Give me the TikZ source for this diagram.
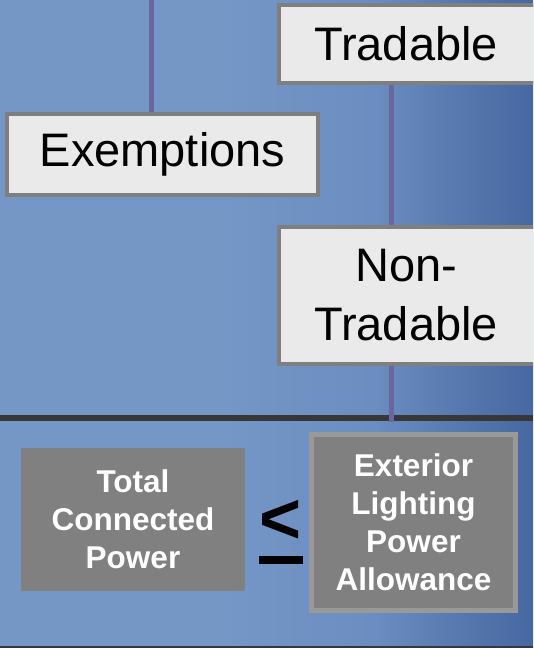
\documentclass[tikz,border=0pt]{standalone}
\usepackage{fontspec}
\setmainfont{Liberation Sans}
\usetikzlibrary{calc}
\definecolor{bgL}{HTML}{7597C6}
\definecolor{bgM}{HTML}{6B8DC0}
\definecolor{bgR}{HTML}{4667A0}
\definecolor{darkline}{HTML}{373737}
\definecolor{conn}{HTML}{6A679F}
\definecolor{boxfill}{HTML}{EAEAEA}
\definecolor{boxedge}{HTML}{7F7F7F}
\definecolor{greyfill}{HTML}{808080}
\definecolor{greyedge}{HTML}{999999}
\pgfdeclarehorizontalshading{bgshade}{100bp}{color(0bp)=(bgL); color(46bp)=(bgL); color(60bp)=(bgM); color(75bp)=(bgR); color(100bp)=(bgR)}
\pgfdeclarelayer{back}
\pgfdeclarelayer{mid}
\pgfsetlayers{back,mid,main}
\tikzset{
  lightbox/.style={draw=boxedge, line width=4pt, fill=boxfill, inner sep=0pt,
    font=\fontsize{47}{59}\selectfont, align=center, text=black},
  greybox/.style={fill=greyfill, inner sep=0pt, text=white,
    font=\fontsize{31.5}{38}\selectfont\bfseries, align=center},
  connector/.style={draw=conn, line width=5pt}
}
\begin{document}
\begin{tikzpicture}[x=1pt,y=-1pt]
\useasboundingbox (0,0) rectangle (533,648);
\clip (0,0) rectangle (533,648);
\begin{pgfonlayer}{back}
\shade[shading=bgshade] (0,0) rectangle (533,648);
\fill[darkline] (0,415) rectangle (533,421);
\fill[darkline] (0,645.5) rectangle (533,648);
\end{pgfonlayer}
% coordinates for connectors
\coordinate (top1) at (151,0);
\coordinate (lx) at (391,0);
\coordinate (lineend) at (391,422);
% nodes
\node[lightbox, minimum width=270pt, minimum height=78pt] (tradable) at (414,44) {Tradable\hspace*{16pt}};
\node[lightbox, minimum width=311pt, minimum height=81pt] (exemptions) at (162.5,154.5) {Exemptions};
\node[lightbox, minimum width=270pt, minimum height=137pt] (nontradable) at (414,295.5) {Non-\hspace*{16pt}\\Tradable\hspace*{16pt}};
% connectors (behind boxes)
\begin{pgfonlayer}{mid}
\draw[connector] (top1) -- (exemptions.north -| top1);
\draw[connector] (tradable.south -| lx) -- (nontradable.north -| lx);
\draw[connector] (nontradable.south -| lx) -- (lineend);
\end{pgfonlayer}
% bottom
\node[greybox, minimum width=224pt, minimum height=143pt] (tcp) at (133,519.5) {Total\\Connected\\Power};
\node[greybox, draw=greyedge, line width=5pt, minimum width=204pt, minimum height=176pt] (elpa) at (413.5,522.5) {Exterior\\Lighting\\Power\\Allowance};
\node[font=\fontsize{72}{72}\selectfont\bfseries, inner sep=0pt, text=black] (lt) at (280.5,522) {<};
\fill[black] (259,556) rectangle (303,564);
\end{tikzpicture}
\end{document}
